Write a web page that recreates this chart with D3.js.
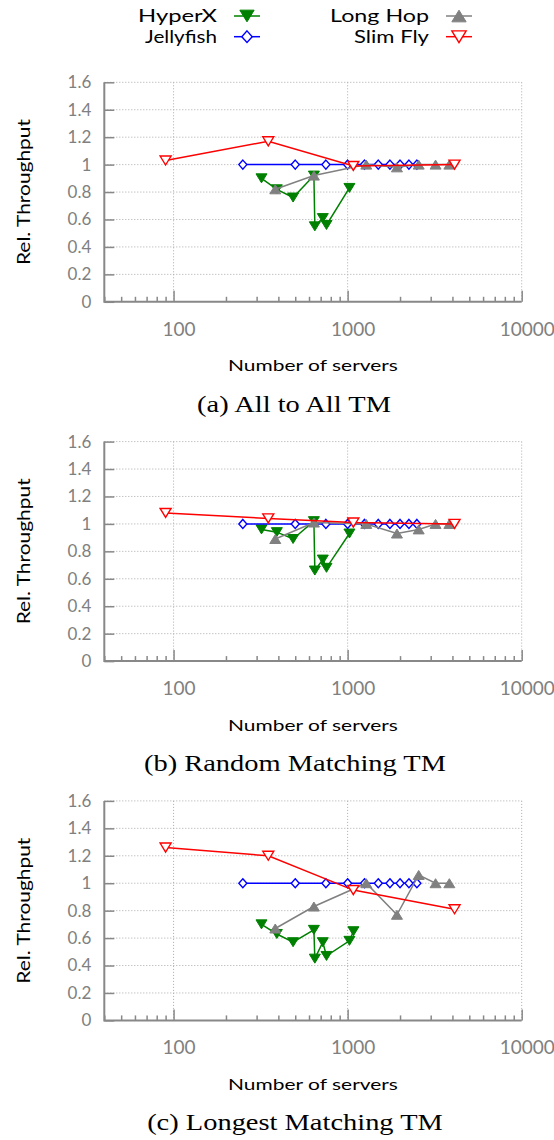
<!DOCTYPE html>
<html><head><meta charset="utf-8">
<script src="https://cdn.jsdelivr.net/npm/d3@7"></script>
<style>
html,body{margin:0;padding:0;background:#fff;}
svg{display:block;}
</style></head>
<body>
<svg id="chart" width="554" height="1140"></svg>
<script>
// ---------- data ----------
const seriesNames = ["HyperX", "Jellyfish", "Long Hop", "Slim Fly"];
const panelCaptions = ["(a) All to All TM", "(b) Random Matching TM", "(c) Longest Matching TM"];
const yTicks = [0, 0.2, 0.4, 0.6, 0.8, 1, 1.2, 1.4, 1.6];
const yTickLabels = ["0", "0.2", "0.4", "0.6", "0.8", "1", "1.2", "1.4", "1.6"];
const xTicks = [100, 1000, 10000];
const xTickLabels = ["100", "1000", "10000"];
const xTitle = "Number of servers";
const yTitle = "Rel. Throughput";

const hyperxX_ab = [320, 392, 486, 640, 648, 720, 756, 1024];
const hyperxX_c  = [320, 392, 486, 640, 648, 720, 756, 1024, 1080];
const jellyfishX = [250, 500, 750, 1000, 1250, 1500, 1750, 2000, 2250, 2500];
const longhopX   = [384, 640, 1280, 1920, 2560, 3200, 3840];
const slimflyX   = [90, 350, 1078, 4114];

// (a) All to All
const hyperxA    = [0.90, 0.82, 0.76, 0.92, 0.55, 0.61, 0.56, 0.83];
const jellyfishA = [1, 1, 1, 1, 1, 1, 1, 1, 1, 1];
const longhopA   = [0.82, 0.92, 1.0, 0.98, 1.0, 1.0, 1.0];
const slimflyA   = [1.03, 1.17, 0.99, 1.0];
// (b) Random Matching
const hyperxB    = [0.96, 0.94, 0.89, 1.02, 0.66, 0.74, 0.68, 0.93];
const jellyfishB = [1, 1, 1, 1, 1, 1, 1, 1, 1, 1];
const longhopB   = [0.89, 1.01, 1.0, 0.93, 0.96, 1.0, 1.0];
const slimflyB   = [1.08, 1.04, 1.01, 1.0];
// (c) Longest Matching
const hyperxC    = [0.70, 0.63, 0.57, 0.66, 0.45, 0.57, 0.47, 0.58, 0.65];
const jellyfishC = [1, 1, 1, 1, 1, 1, 1, 1, 1, 1];
const longhopC   = [0.67, 0.83, 1.0, 0.77, 1.06, 1.0, 1.0];
const slimflyC   = [1.26, 1.20, 0.95, 0.81];

// ---------- styling ----------
const colors = {"HyperX":"#008000","Jellyfish":"#0000ff","Long Hop":"#808080","Slim Fly":"#ff0000"};
const sansFont = "Lato, 'Open Sans', sans-serif";
const serifFont = "'Liberation Serif', 'Times New Roman', serif";

const panels = [
  {cap: panelCaptions[0], data: [[hyperxX_ab, hyperxA],[jellyfishX, jellyfishA],[longhopX, longhopA],[slimflyX, slimflyA]]},
  {cap: panelCaptions[1], data: [[hyperxX_ab, hyperxB],[jellyfishX, jellyfishB],[longhopX, longhopB],[slimflyX, slimflyB]]},
  {cap: panelCaptions[2], data: [[hyperxX_c, hyperxC],[jellyfishX, jellyfishC],[longhopX, longhopC],[slimflyX, slimflyC]]}
];

const svg = d3.select("#chart");
const left = 104.3, right = 521.7, plotH = 219.5, top0 = 82.3, panelStep = 359.3;
const x = d3.scaleLog().domain([40, 10000]).range([left, right]);

function markerPath(name, s) {
  s = s || 1;
  if (name === "HyperX" || name === "Slim Fly") {
    const w = 5.5*s, h = 4.5*s;
    return `M${-w},${-h}L${w},${-h}L0,${h}Z`;
  } else if (name === "Long Hop") {
    const w = 5.5*s, h = 4.5*s;
    return `M${-w},${h}L${w},${h}L0,${-h}Z`;
  } else {
    const w = 4*s, h = 4.5*s;
    return `M0,${-h}L${w},0L0,${h}L${-w},0Z`;
  }
}
function drawMarker(g, name, cx, cy, s) {
  const filled = (name === "HyperX" || name === "Long Hop");
  g.append("path")
    .attr("d", markerPath(name, s))
    .attr("transform", `translate(${cx},${cy})`)
    .attr("fill", filled ? colors[name] : "#fff")
    .attr("stroke", colors[name])
    .attr("stroke-width", filled ? 1 : 1.4)
    .attr("stroke-linejoin", "miter");
}
// text stretched horizontally to a measured width
function stretchedText(g, str, tx, ty, anchor, family, size, width, fill) {
  const t = g.append("text").attr("x", 0).attr("y", 0).attr("text-anchor", anchor)
    .style("font-family", family).style("font-size", size + "px").attr("fill", fill || "#000").text(str);
  const len = t.node().getComputedTextLength();
  const s = (len > 0 && width) ? width / len : 1;
  t.attr("transform", `translate(${tx},${ty}) scale(${s},1)`);
  return s;
}

let serifScale = null;
panels.forEach((p, i) => {
  const top = top0 + i*panelStep;
  const bottom = top + plotH;
  const y = d3.scaleLinear().domain([0, 1.6]).range([bottom, top]);
  const g = svg.append("g");

  // gridlines
  const grid = g.append("g").attr("stroke", "#aaa").attr("stroke-width", 1).attr("stroke-dasharray", "1,2");
  yTicks.slice(1).forEach(t => {
    grid.append("line").attr("x1", left).attr("x2", right).attr("y1", y(t)).attr("y2", y(t));
  });
  xTicks.forEach(t => {
    grid.append("line").attr("x1", x(t)).attr("x2", x(t)).attr("y1", top).attr("y2", bottom);
  });

  // axes (ticks inward)
  const yAxis = d3.axisLeft(y).tickValues(yTicks).tickSize(-10).tickFormat((d, k) => yTickLabels[k]).tickPadding(13);
  const ya = g.append("g").attr("transform", `translate(${left},0)`).call(yAxis);
  ya.select(".domain").remove();
  ya.selectAll(".tick line").attr("stroke", "#888").attr("stroke-width", 1.5);
  ya.selectAll(".tick text").attr("fill", "#808080").style("font-family", sansFont).style("font-size", "17px");

  const minor = [];
  [10, 100, 1000].forEach(dec => { for (let m = 2; m <= 9; m++) { const v = m*dec; if (v >= 40 && v <= 10000 && !xTicks.includes(v)) minor.push(v); } });
  const xMinor = d3.axisBottom(x).tickValues(minor).tickSize(-5).tickFormat("");
  const xm = g.append("g").attr("transform", `translate(0,${bottom})`).call(xMinor);
  xm.select(".domain").remove();
  xm.selectAll(".tick line").attr("stroke", "#888").attr("stroke-width", 1.5);

  const xAxis = d3.axisBottom(x).tickValues(xTicks).tickSize(-11).tickFormat((d, k) => xTickLabels[k]).tickPadding(20.5);
  const xa = g.append("g").attr("transform", `translate(0,${bottom})`).call(xAxis);
  xa.select(".domain").remove();
  xa.selectAll(".tick line").attr("stroke", "#888").attr("stroke-width", 1.5);
  xa.selectAll(".tick text").attr("fill", "#808080").attr("dx", 5).style("font-family", sansFont).style("font-size", "19px");

  // axis lines
  g.append("path").attr("d", `M${left},${top}V${bottom}H${right}`).attr("fill", "none").attr("stroke", "#888").attr("stroke-width", 2);

  // series
  const line = d3.line().x(d => x(d[0])).y(d => y(d[1]));
  p.data.forEach((s, si) => {
    const name = seriesNames[si];
    const pts = s[0].map((xv, k) => [xv, s[1][k]]);
    const sg = g.append("g");
    sg.append("path").datum(pts).attr("d", line).attr("fill", "none").attr("stroke", colors[name]).attr("stroke-width", 1.5);
    pts.forEach(d => drawMarker(sg, name, x(d[0]), y(d[1]), 1));
  });

  // titles
  g.append("text").attr("transform", `translate(29.5,${(top+bottom)/2}) rotate(-90)`)
    .attr("text-anchor", "middle").style("font-family", sansFont).style("font-size", "18px").attr("fill", "#000")
    .attr("textLength", 146).attr("lengthAdjust", "spacingAndGlyphs")
    .text(yTitle);
  stretchedText(g, xTitle, 313, bottom + 69.5, "middle", sansFont, 16, 170);
  if (serifScale === null) {
    serifScale = stretchedText(g, p.cap, 294, bottom + 110, "middle", serifFont, 23, 194);
  } else {
    g.append("text").attr("text-anchor", "middle").style("font-family", serifFont).style("font-size", "23px")
      .attr("fill", "#000").text(p.cap)
      .attr("transform", `translate(295,${bottom + 110}) scale(${serifScale},1)`);
  }
});

// legend
const legendItems = [
  {name: "HyperX",    tx: 217, ty: 16,   w: 79},
  {name: "Jellyfish", tx: 217, ty: 36.7, w: 72},
  {name: "Long Hop",  tx: 429, ty: 16,   w: 99},
  {name: "Slim Fly",  tx: 429, ty: 36.7, w: 75}
];
const lg = svg.append("g");
legendItems.forEach(it => {
  stretchedText(lg, it.name, it.tx, it.ty + 6, "end", sansFont, 17, it.w);
  const x1 = it.tx + 17, x2 = it.tx + 43;
  lg.append("line").attr("x1", x1).attr("x2", x2).attr("y1", it.ty).attr("y2", it.ty)
    .attr("stroke", colors[it.name]).attr("stroke-width", 1.5);
  drawMarker(lg, it.name, (x1+x2)/2, it.ty, 1.3);
});
</script>
</body></html>
